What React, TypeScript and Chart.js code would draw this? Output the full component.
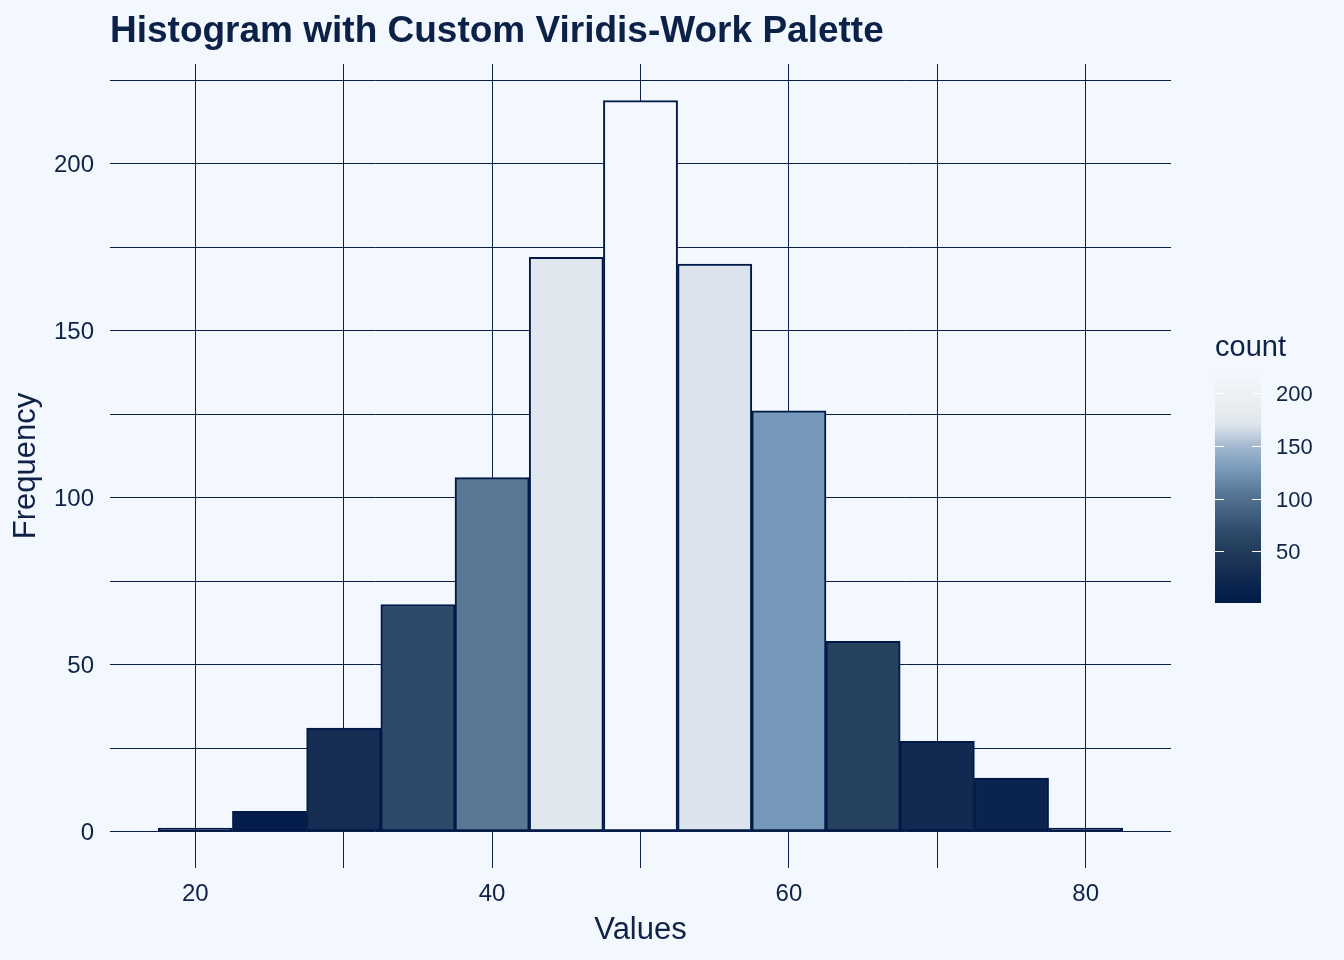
import React, { useEffect, useRef } from "react";
import { Chart, registerables } from "chart.js";

Chart.register(...registerables);

// ---- data ----
const binCenters = [20, 25, 30, 35, 40, 45, 50, 55, 60, 65, 70, 75, 80];
const counts = [1, 6, 31, 68, 106, 172, 219, 170, 126, 57, 27, 16, 1];
const xGridValues = [20, 30, 40, 50, 60, 70, 80];
const xLabelValues = [20, 40, 60, 80];
const yGridValues = [0, 25, 50, 75, 100, 125, 150, 175, 200, 225];
const yLabelValues = [0, 50, 100, 150, 200];
const legendTickValues = [50, 100, 150, 200];

// colour scale stops (count -> colour)
const scaleStops = [1, 31, 57, 68, 106, 126, 150, 165, 172, 185, 219];
const scaleColours = [
  "#001a48", "#152d52", "#26425f", "#2d4a6b", "#587896", "#7597b9",
  "#a5b9d0", "#d0dae6", "#e1e7ef", "#e8ecef", "#f4f7fd",
];

const BG = "#f3f7fe";
const NAVY = "#0b1f48";
const TEXT = "#0f2247";
const FONT = "'Liberation Sans', Arial, sans-serif";

function hexToRgb(h: string) {
  const n = parseInt(h.slice(1), 16);
  return [(n >> 16) & 255, (n >> 8) & 255, n & 255];
}
function colourFor(v: number) {
  if (v <= scaleStops[0]) return scaleColours[0];
  for (let i = 1; i < scaleStops.length; i++) {
    if (v <= scaleStops[i]) {
      const t = (v - scaleStops[i - 1]) / (scaleStops[i] - scaleStops[i - 1]);
      const a = hexToRgb(scaleColours[i - 1]);
      const b = hexToRgb(scaleColours[i]);
      const c = a.map((x, k) => Math.round(x + (b[k] - x) * t));
      return `rgb(${c[0]},${c[1]},${c[2]})`;
    }
  }
  return scaleColours[scaleColours.length - 1];
}

const colourbarPlugin = {
  id: "colourbar",
  afterDraw(chart: any) {
    const ctx = chart.ctx as CanvasRenderingContext2D;
    const vmin = Math.min(...counts);
    const vmax = Math.max(...counts);
    const x0 = 1215, x1 = 1261, yTop = 373, yBot = 603;
    const yOf = (v: number) => yBot - ((v - vmin) / (vmax - vmin)) * (yBot - yTop);
    ctx.save();
    // title
    ctx.fillStyle = TEXT;
    ctx.font = `29px ${FONT}`;
    ctx.textAlign = "left";
    ctx.textBaseline = "alphabetic";
    ctx.fillText("count", 1215, 356);
    // gradient
    const grad = ctx.createLinearGradient(0, yBot, 0, yTop);
    for (let i = 0; i < scaleStops.length; i++) {
      const t = (scaleStops[i] - vmin) / (vmax - vmin);
      grad.addColorStop(Math.min(1, Math.max(0, t)), scaleColours[i]);
    }
    ctx.fillStyle = grad;
    ctx.fillRect(x0, yTop, x1 - x0, yBot - yTop);
    // ticks and labels
    ctx.strokeStyle = "#ffffff";
    ctx.lineWidth = 1;
    ctx.font = `22px ${FONT}`;
    ctx.fillStyle = TEXT;
    ctx.textBaseline = "middle";
    for (const v of legendTickValues) {
      const y = Math.round(yOf(v)) + 0.5;
      ctx.beginPath();
      ctx.moveTo(x0, y);
      ctx.lineTo(x0 + 9, y);
      ctx.moveTo(x1 - 9, y);
      ctx.lineTo(x1, y);
      ctx.stroke();
      ctx.fillText(String(v), 1276, y + 1);
    }
    ctx.restore();
  },
};

const bgPlugin = {
  id: "bg",
  beforeDraw(chart: any) {
    const ctx = chart.ctx as CanvasRenderingContext2D;
    ctx.save();
    ctx.fillStyle = BG;
    ctx.fillRect(0, 0, chart.width, chart.height);
    ctx.restore();
  },
};

export default function App() {
  const ref = useRef<HTMLCanvasElement | null>(null);
  useEffect(() => {
    document.body.style.margin = "0";
    document.body.style.background = BG;
    const canvas = ref.current!;
    const chart = new Chart(canvas, {
      type: "bar",
      data: {
        datasets: [
          {
            data: binCenters.map((x, i) => ({ x, y: counts[i] })),
            backgroundColor: counts.map((c) => colourFor(c)),
            borderColor: "#001a48",
            borderWidth: 2,
            borderSkipped: false,
            barPercentage: 1,
            categoryPercentage: 1,
          },
        ],
      },
      options: {
        animation: false,
        responsive: false,
        devicePixelRatio: 1,
        layout: { padding: { left: 0, right: 173, top: 0, bottom: 0 } },
        plugins: {
          legend: { display: false },
          tooltip: { enabled: false },
          title: {
            display: true,
            text: "Histogram with Custom Viridis-Work Palette",
            align: "start",
            fullSize: false,
            color: "#0c2148",
            font: { family: FONT, size: 37, weight: "bold", lineHeight: 1.2 },
            padding: { top: 10, bottom: 9.6 },
          },
        },
        scales: {
          x: {
            type: "linear",
            min: 14.25,
            max: 85.75,
            bounds: "data",
            offset: false,
            afterFit: (s: any) => {
              s.height = 92;
            },
            afterBuildTicks: (s: any) => {
              s.ticks = xGridValues.map((v) => ({ value: v }));
            },
            grid: { color: NAVY, lineWidth: 1, drawTicks: false, offset: false },
            border: { display: false },
            ticks: {
              autoSkip: false,
              maxRotation: 0,
              padding: 12,
              color: TEXT,
              font: { family: FONT, size: 24 },
              callback: (v: any) => (xLabelValues.includes(Number(v)) ? String(v) : ""),
            },
            title: {
              display: true,
              text: "Values",
              color: TEXT,
              font: { family: FONT, size: 31, lineHeight: 1.2 },
              padding: { top: 0, bottom: 11.4 },
            },
          },
          y: {
            type: "linear",
            min: -10.95,
            max: 229.95,
            bounds: "data",
            afterFit: (s: any) => {
              s.width = 110;
            },
            afterBuildTicks: (s: any) => {
              s.ticks = yGridValues.map((v) => ({ value: v }));
            },
            grid: { color: NAVY, lineWidth: 1, drawTicks: false },
            border: { display: false },
            ticks: {
              autoSkip: false,
              padding: 16,
              labelOffset: 1.5,
              color: TEXT,
              font: { family: FONT, size: 24 },
              callback: (v: any) => (yLabelValues.includes(Number(v)) ? String(v) : ""),
            },
            title: {
              display: true,
              text: "Frequency",
              color: TEXT,
              font: { family: FONT, size: 31, lineHeight: 1.2 },
              padding: { top: 8, bottom: 0 },
            },
          },
        },
      },
      plugins: [bgPlugin, colourbarPlugin],
    } as any);
    return () => chart.destroy();
  }, []);
  return (
    <div style={{ position: "absolute", left: 0, top: 0, width: 1344, height: 960, background: BG }}>
      <canvas ref={ref} width={1344} height={960} style={{ display: "block" }} />
    </div>
  );
}
